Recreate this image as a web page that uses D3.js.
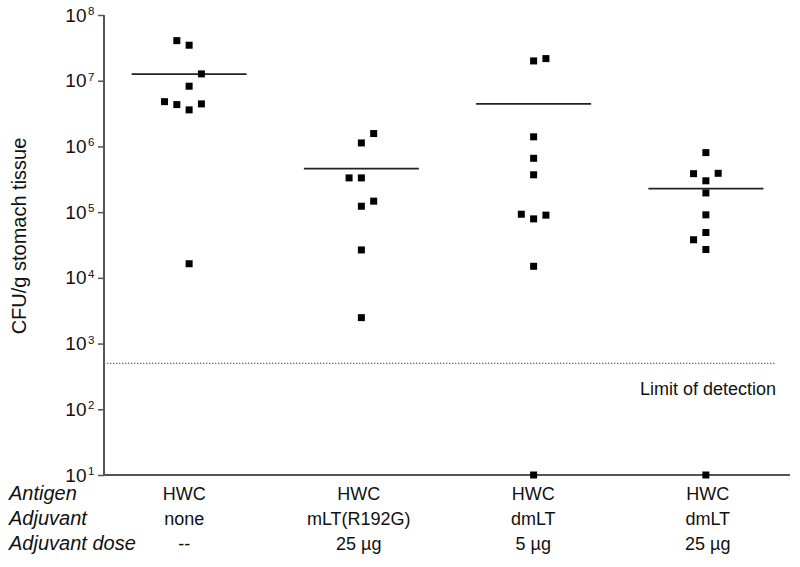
<!DOCTYPE html>
<html><head><meta charset="utf-8">
<script src="https://cdn.jsdelivr.net/npm/d3@7/dist/d3.min.js"></script>
<style>
html,body{margin:0;padding:0;background:#fff;}
text{font-family:"Liberation Sans",Arial,Helvetica,sans-serif;fill:#111;}
</style></head>
<body><svg id="chart" width="800" height="567"></svg>
<script>
// ---- data ----
const groups = ["g1", "g2", "g3", "g4"];
const antigenLabels = ["HWC", "HWC", "HWC", "HWC"];
const adjuvantLabels = ["none", "mLT(R192G)", "dmLT", "dmLT"];
const doseLabels = ["--", "25 \u00b5g", "5 \u00b5g", "25 \u00b5g"];
const rowLabels = ["Antigen", "Adjuvant", "Adjuvant dose"];

const g1Values = [4.07e7, 3.47e7, 1.27e7, 8.25e6, 4.8e6, 4.33e6, 3.6e6, 4.44e6, 1.64e4];
const g1Slots  = [-1, 0, 1, 0, -2, -1, 0, 1, 0];
const g2Values = [1.57e6, 1.13e6, 3.32e5, 3.32e5, 1.47e5, 1.23e5, 2.66e4, 2.48e3];
const g2Slots  = [1, 0, -1, 0, 1, 0, 0, 0];
const g3Values = [2.0e7, 2.17e7, 1.40e6, 6.6e5, 3.7e5, 9.3e4, 7.9e4, 9.0e4, 1.5e4, 10];
const g3Slots  = [0, 1, 0, 0, 0, -1, 0, 1, 0, 0];
const g4Values = [8.05e5, 3.85e5, 3.9e5, 3.0e5, 1.96e5, 9.1e4, 4.9e4, 3.8e4, 2.7e4, 10];
const g4Slots  = [0, -1, 1, 0, 0, 0, 0, -1, 0, 0];

const tickExponents = [1, 2, 3, 4, 5, 6, 7, 8];
const limitOfDetection = 500;
const limitLabel = "Limit of detection";
const yTitle = "CFU/g stomach tissue";

// ---- build ----
const seriesValues = [g1Values, g2Values, g3Values, g4Values];
const seriesSlots = [g1Slots, g2Slots, g3Slots, g4Slots];
const points = [];
groups.forEach((g, i) => seriesValues[i].forEach((v, j) => points.push({group: g, value: v, slot: seriesSlots[i][j]})));
const means = groups.map((g, i) => ({group: g, value: d3.mean(seriesValues[i])}));

const svg = d3.select("#chart");
const x = d3.scaleBand().domain(groups).range([103, 792]);
const xLab = d3.scaleBand().domain(groups).range([97, 795]);
const slotX = d3.scaleLinear().domain([-1, 1]).range([-12.3, 12.3]);
const y = d3.scaleLog().domain([10, 1e8]).range([475, 15]);
const cx = g => x(g) + x.bandwidth() / 2;
const lx = g => xLab(g) + xLab.bandwidth() / 2;

const axisColor = "#555";

// y axis
const yAxis = d3.axisLeft(y).tickValues(tickExponents.map(e => Math.pow(10, e))).tickSize(6).tickFormat("");
const ya = svg.append("g").attr("transform", "translate(104,0)").call(yAxis);
ya.select(".domain").remove();
ya.selectAll(".tick line").attr("stroke", axisColor).attr("stroke-width", 1.5);
svg.append("line").attr("x1", 104).attr("x2", 104).attr("y1", y(1e8)).attr("y2", y(10))
  .attr("stroke", axisColor).attr("stroke-width", 2);
// x axis line
svg.append("line").attr("x1", 103).attr("x2", 790).attr("y1", y(10)).attr("y2", y(10))
  .attr("stroke", axisColor).attr("stroke-width", 2);

// tick labels 10^n
const tl = svg.append("g");
tickExponents.forEach(e => {
  const yy = y(Math.pow(10, e));
  tl.append("text").attr("x", 86.5).attr("y", yy + 6.5).attr("text-anchor", "end")
    .attr("font-size", 19).text("10");
  tl.append("text").attr("x", 88).attr("y", yy).attr("font-size", 11.5).text(e);
});

// y title
svg.append("text").attr("transform", `translate(26,${236}) rotate(-90)`)
  .attr("text-anchor", "middle").attr("font-size", 20).text(yTitle);

// limit of detection
svg.append("line").attr("x1", 104).attr("x2", 776).attr("y1", y(limitOfDetection)).attr("y2", y(limitOfDetection))
  .attr("stroke", "#666").attr("stroke-width", 1.2).attr("stroke-dasharray", "1.3,1.7");
svg.append("text").attr("x", 776).attr("y", 395).attr("text-anchor", "end")
  .attr("font-size", 18).text(limitLabel);

// mean lines
svg.append("g").selectAll("line").data(means).join("line")
  .attr("x1", d => cx(d.group) - 57.5).attr("x2", d => cx(d.group) + 57.5)
  .attr("y1", d => y(d.value)).attr("y2", d => y(d.value))
  .attr("stroke", "#222").attr("stroke-width", 1.7);

// points
const sz = 7;
svg.append("g").selectAll("rect").data(points).join("rect")
  .attr("x", d => cx(d.group) + slotX(d.slot) - sz / 2)
  .attr("y", d => y(d.value) - sz / 2)
  .attr("width", sz).attr("height", sz).attr("fill", "#000");

// bottom table
const rowY = [500, 525, 550];
rowLabels.forEach((r, i) => {
  svg.append("text").attr("x", 9).attr("y", rowY[i]).attr("font-size", 20)
    .attr("font-style", "italic").text(r);
});
[antigenLabels, adjuvantLabels, doseLabels].forEach((arr, i) => {
  svg.append("g").selectAll("text").data(groups).join("text")
    .attr("x", d => lx(d)).attr("y", rowY[i]).attr("text-anchor", "middle")
    .attr("font-size", 18).text((d, k) => arr[k]);
});
</script></body></html>
